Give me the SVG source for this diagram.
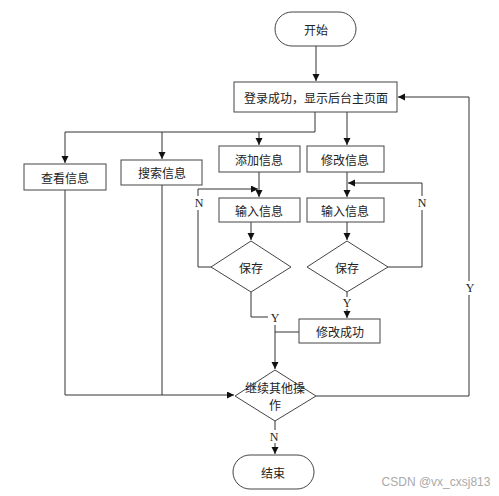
<svg xmlns="http://www.w3.org/2000/svg" width="499" height="496" viewBox="0 0 499 496">
<style>
.box{fill:#fff;stroke:#444;stroke-width:1}
.t{font-family:"Noto Sans CJK SC","Liberation Sans",sans-serif;font-size:12px;fill:#222;text-anchor:middle;dominant-baseline:central}
.l{font-family:"Liberation Serif",serif;font-size:12px;fill:#222;text-anchor:middle;dominant-baseline:central}
.c{fill:none;stroke:#333;stroke-width:1}
</style>
<defs>
<marker id="a" markerUnits="userSpaceOnUse" markerWidth="8" markerHeight="8" refX="7" refY="3.5" orient="auto">
<path d="M0,0 L7,3.5 L0,7 z" fill="#111"/>
</marker>
</defs>
<rect width="499" height="496" fill="#fff"/>
<g id="connectors">
<path class="c" d="M316,46 V81" marker-end="url(#a)"/>
<path class="c" d="M315,112 V132 H65 V163" marker-end="url(#a)"/>
<path class="c" d="M162,132 V159" marker-end="url(#a)"/>
<path class="c" d="M259,132 V145" marker-end="url(#a)"/>
<path class="c" d="M347,112 V145" marker-end="url(#a)"/>
<path class="c" d="M259,172 V197" marker-end="url(#a)"/>
<path class="c" d="M347,172 V197" marker-end="url(#a)"/>
<path class="c" d="M251,222 V240" marker-end="url(#a)"/>
<path class="c" d="M347,222 V240" marker-end="url(#a)"/>
<path class="c" d="M211,267 H198 V210 M198,196 V189 H258" marker-end="url(#a)"/>
<path class="c" d="M388,267 H422 V210 M422,196 V183 H348" marker-end="url(#a)"/>
<path class="c" d="M251,292 V317 H268"/>
<path class="c" d="M347,292 V297 M347,309 V318" marker-end="url(#a)"/>
<path class="c" d="M275,325 V369" marker-end="url(#a)"/>
<path class="c" d="M275,332 H299"/>
<path class="c" d="M65,190 V395 H234" marker-end="url(#a)"/>
<path class="c" d="M162,185 V395"/>
<path class="c" d="M316,396 H469 V295 M469,281 V97 H398" marker-end="url(#a)"/>
<path class="c" d="M275,421 V430 M275,443 V454" marker-end="url(#a)"/>
</g>
<g id="labels">
<text class="l" x="199" y="203">N</text>
<text class="l" x="422" y="203">N</text>
<text class="l" x="275" y="318">Y</text>
<text class="l" x="347" y="303">Y</text>
<text class="l" x="470" y="288">Y</text>
<text class="l" x="274" y="437">N</text>
</g>
<g id="start"><rect class="box" x="275" y="12" width="81" height="34" rx="17"/><text class="t" x="316" y="29">开始</text></g>
<g id="login"><rect class="box" x="234" y="82" width="163" height="30"/><text class="t" x="316" y="97">登录成功，显示后台主页面</text></g>
<g id="view"><rect class="box" x="24" y="164" width="82" height="26"/><text class="t" x="65" y="177">查看信息</text></g>
<g id="search"><rect class="box" x="121" y="160" width="81" height="25"/><text class="t" x="162" y="172">搜索信息</text></g>
<g id="add"><rect class="box" x="219" y="146" width="81" height="26"/><text class="t" x="259" y="159">添加信息</text></g>
<g id="modify"><rect class="box" x="307" y="146" width="77" height="26"/><text class="t" x="345" y="159">修改信息</text></g>
<g id="input1"><rect class="box" x="219" y="198" width="81" height="24"/><text class="t" x="259" y="210">输入信息</text></g>
<g id="input2"><rect class="box" x="307" y="198" width="77" height="24"/><text class="t" x="345" y="210">输入信息</text></g>
<g id="save1"><polygon class="box" points="251,241 291,267 251,292 211,267"/><text class="t" x="251" y="267">保存</text></g>
<g id="save2"><polygon class="box" points="347,241 388,267 347,292 307,267"/><text class="t" x="347" y="267">保存</text></g>
<g id="success"><rect class="box" x="299" y="319" width="81" height="24"/><text class="t" x="340" y="331">修改成功</text></g>
<g id="continue"><polygon class="box" points="275,370 316,396 275,421 235,396"/><text class="t" x="275" y="387" font-size="11">继续其他操</text><text class="t" x="275" y="404" font-size="11">作</text></g>
<g id="end"><rect class="box" x="233" y="455" width="81" height="34" rx="17"/><text class="t" x="273" y="472">结束</text></g>
<text x="436" y="482" font-family="Liberation Sans,sans-serif" font-size="12" fill="#aaa" text-anchor="middle" dominant-baseline="central">CSDN @vx_cxsj813</text>
</svg>
